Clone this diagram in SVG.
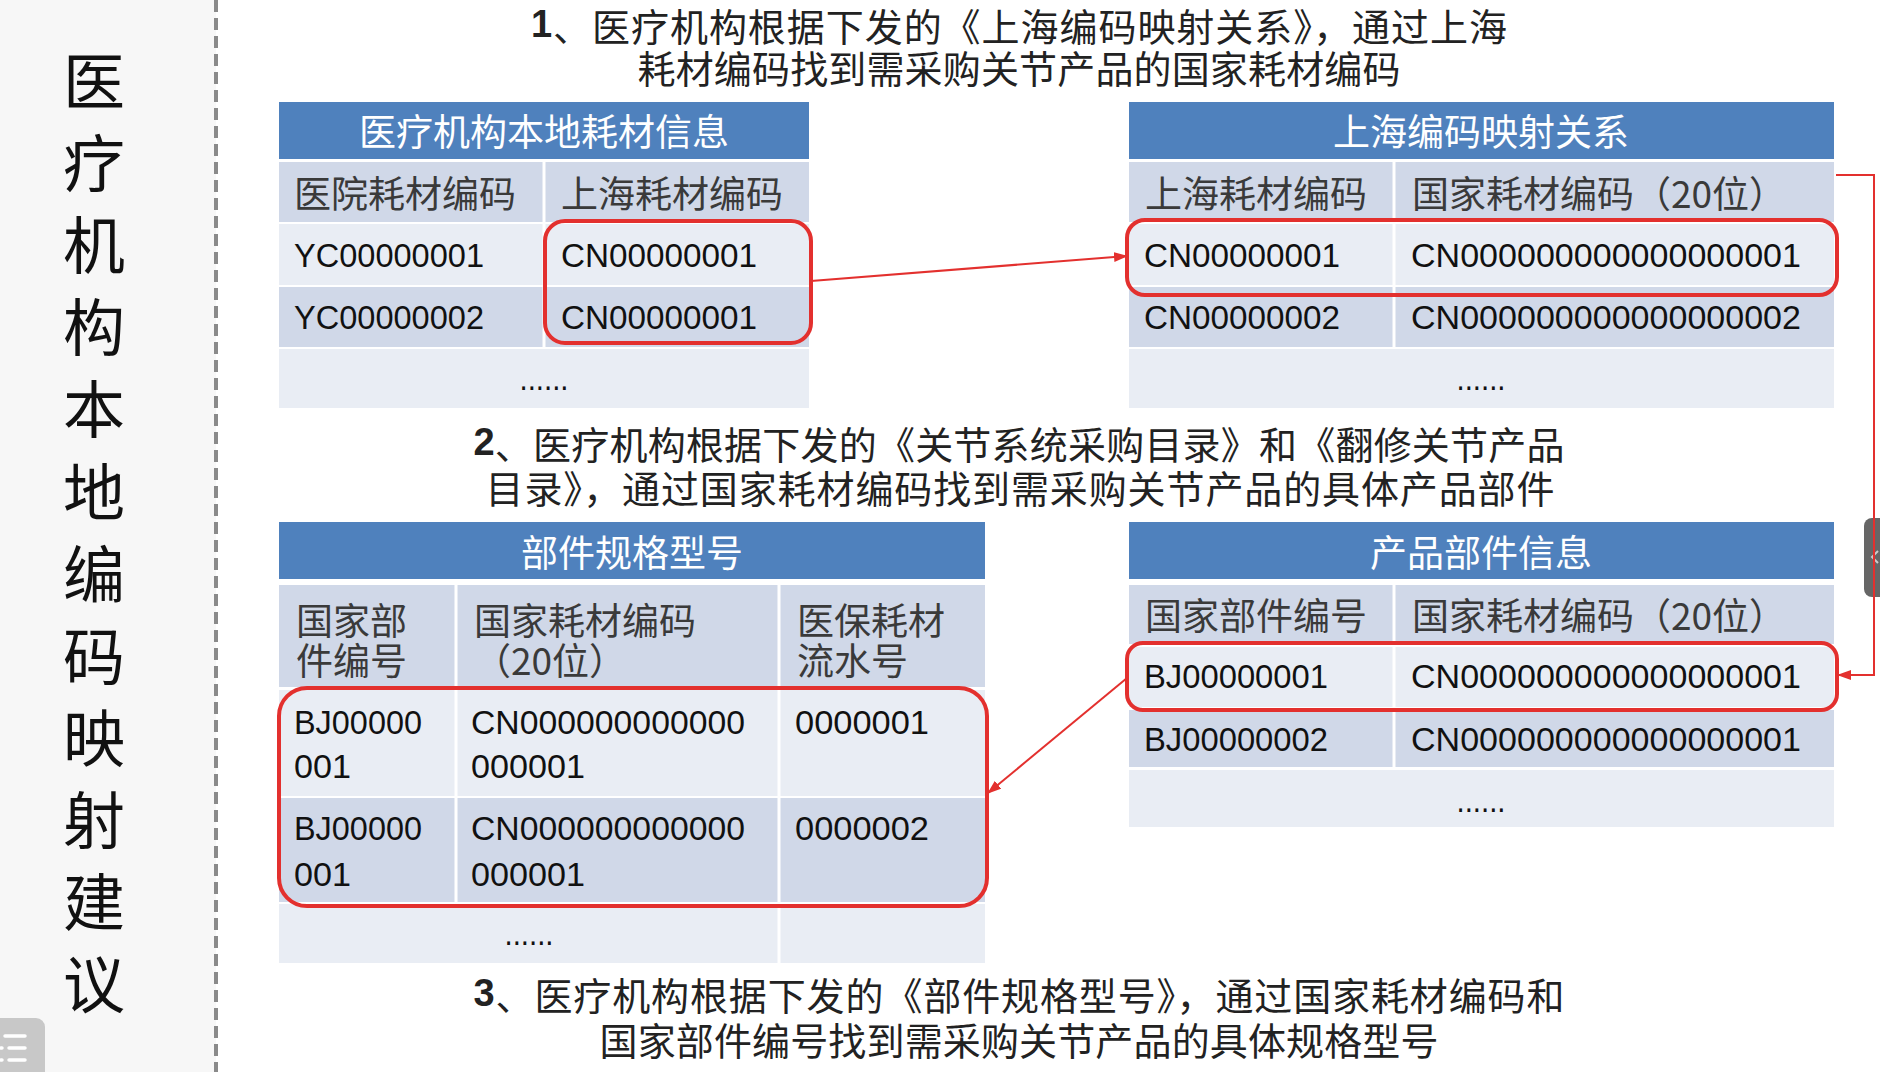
<svg xmlns="http://www.w3.org/2000/svg" width="1880" height="1072" viewBox="0 0 1880 1072">
<style>
.hdr{fill:#4f81bd}
.b1{fill:#d0d8e8}
.b2{fill:#e9edf4}
.dv{stroke:#fff;stroke-width:3}
.ht{font-family:"Noto Sans CJK SC",sans-serif;font-size:37px;fill:#fff;text-anchor:middle;dominant-baseline:central}
.ch{font-family:"Noto Sans CJK SC",sans-serif;font-size:37px;fill:#3a3a3a;dominant-baseline:central}
.dt{font-family:"Liberation Sans",Arial,sans-serif;font-size:34px;fill:#111;dominant-baseline:central}
.dots{font-family:"Liberation Sans",Arial,sans-serif;font-size:34px;fill:#111;text-anchor:middle}
.para{font-family:"Noto Sans CJK SC",sans-serif;font-size:38px;fill:#222;text-anchor:middle;dominant-baseline:central}
.num{font-family:"Liberation Sans",Arial,sans-serif;font-weight:bold}
.title{font-family:"Noto Sans CJK SC",sans-serif;font-size:62px;fill:#111;text-anchor:middle;dominant-baseline:central}
.sel{fill:none;stroke:#e3302e;stroke-width:4}
.conn{fill:none;stroke:#e3302e;stroke-width:2}
</style>
<defs>
<marker id="arr" markerUnits="userSpaceOnUse" markerWidth="14" markerHeight="10" refX="13" refY="5" orient="auto">
<path d="M0,0 L14,5 L0,10 z" fill="#e3302e"/>
</marker>
</defs>
<rect x="0" y="0" width="1880" height="1072" fill="#ffffff"/>
<rect x="0" y="0" width="216" height="1072" fill="#f7f7f7"/>
<line x1="216" y1="0" x2="216" y2="1072" stroke="#8a8a8a" stroke-width="4" stroke-dasharray="12,6"/>

<g id="title">
<text class="title" x="94" y="78">医</text>
<text class="title" x="94" y="160">疗</text>
<text class="title" x="94" y="242">机</text>
<text class="title" x="94" y="324">构</text>
<text class="title" x="94" y="406">本</text>
<text class="title" x="94" y="489">地</text>
<text class="title" x="94" y="571">编</text>
<text class="title" x="94" y="653">码</text>
<text class="title" x="94" y="735">映</text>
<text class="title" x="94" y="817">射</text>
<text class="title" x="94" y="899">建</text>
<text class="title" x="94" y="981">议</text>
</g>

<g id="step1">
<text class="para" x="1019" y="24" textLength="976"><tspan class="num">1</tspan>、医疗机构根据下发的《上海编码映射关系》，通过上海</text>
<text class="para" x="1019" y="66" textLength="763">耗材编码找到需采购关节产品的国家耗材编码</text>
</g>
<g id="step2">
<text class="para" x="1019" y="442" textLength="1091"><tspan class="num">2</tspan>、医疗机构根据下发的《关节系统采购目录》和《翻修关节产品</text>
<text class="para" x="1020" y="486" textLength="1069">目录》，通过国家耗材编码找到需采购关节产品的具体产品部件</text>
</g>
<g id="step3">
<text class="para" x="1019" y="993" textLength="1091"><tspan class="num">3</tspan>、医疗机构根据下发的《部件规格型号》，通过国家耗材编码和</text>
<text class="para" x="1019" y="1038" textLength="839">国家部件编号找到需采购关节产品的具体规格型号</text>
</g>

<g id="table-local">
<rect class="hdr" x="279" y="102" width="530" height="57"/>
<rect class="b1" x="279" y="162" width="530" height="60"/>
<rect class="b2" x="279" y="224" width="530" height="61"/>
<rect class="b1" x="279" y="287" width="530" height="60"/>
<rect class="b2" x="279" y="349" width="530" height="59"/>
<line class="dv" x1="544" y1="162" x2="544" y2="347"/>
<text class="ht" x="544" y="130">医疗机构本地耗材信息</text>
<text class="ch" x="294" y="192">医院耗材编码</text>
<text class="ch" x="561" y="192">上海耗材编码</text>
<text class="dt" x="294" y="255" textLength="190" lengthAdjust="spacingAndGlyphs">YC00000001</text>
<text class="dt" x="561" y="255" textLength="196" lengthAdjust="spacingAndGlyphs">CN00000001</text>
<text class="dt" x="294" y="317" textLength="190" lengthAdjust="spacingAndGlyphs">YC00000002</text>
<text class="dt" x="561" y="317" textLength="196" lengthAdjust="spacingAndGlyphs">CN00000001</text>
<text class="dots" x="544" y="390" textLength="49" lengthAdjust="spacingAndGlyphs">......</text>
<rect class="sel" x="545" y="221" width="266" height="122" rx="20"/>
</g>

<g id="table-shanghai">
<rect class="hdr" x="1129" y="102" width="705" height="57"/>
<rect class="b1" x="1129" y="162" width="705" height="60"/>
<rect class="b2" x="1129" y="224" width="705" height="61"/>
<rect class="b1" x="1129" y="287" width="705" height="60"/>
<rect class="b2" x="1129" y="349" width="705" height="59"/>
<line class="dv" x1="1394" y1="162" x2="1394" y2="347"/>
<text class="ht" x="1481" y="130">上海编码映射关系</text>
<text class="ch" x="1145" y="192">上海耗材编码</text>
<text class="ch" x="1412" y="192">国家耗材编码（20位）</text>
<text class="dt" x="1144" y="255" textLength="196" lengthAdjust="spacingAndGlyphs">CN00000001</text>
<text class="dt" x="1411" y="255" textLength="390" lengthAdjust="spacingAndGlyphs">CN000000000000000001</text>
<text class="dt" x="1144" y="317" textLength="196" lengthAdjust="spacingAndGlyphs">CN00000002</text>
<text class="dt" x="1411" y="317" textLength="390" lengthAdjust="spacingAndGlyphs">CN000000000000000002</text>
<text class="dots" x="1481" y="390" textLength="49" lengthAdjust="spacingAndGlyphs">......</text>
<rect class="sel" x="1127" y="220" width="710" height="75" rx="18"/>
</g>

<g id="table-parts">
<rect class="hdr" x="1129" y="522" width="705" height="57"/>
<rect class="b1" x="1129" y="585" width="705" height="59"/>
<rect class="b2" x="1129" y="647" width="705" height="60"/>
<rect class="b1" x="1129" y="710" width="705" height="57"/>
<rect class="b2" x="1129" y="770" width="705" height="57"/>
<line class="dv" x1="1394" y1="585" x2="1394" y2="767"/>
<text class="ht" x="1481" y="551">产品部件信息</text>
<text class="ch" x="1145" y="614">国家部件编号</text>
<text class="ch" x="1412" y="614">国家耗材编码（20位）</text>
<text class="dt" x="1144" y="676" textLength="184" lengthAdjust="spacingAndGlyphs">BJ00000001</text>
<text class="dt" x="1411" y="676" textLength="390" lengthAdjust="spacingAndGlyphs">CN000000000000000001</text>
<text class="dt" x="1144" y="739" textLength="184" lengthAdjust="spacingAndGlyphs">BJ00000002</text>
<text class="dt" x="1411" y="739" textLength="390" lengthAdjust="spacingAndGlyphs">CN000000000000000001</text>
<text class="dots" x="1481" y="812" textLength="49" lengthAdjust="spacingAndGlyphs">......</text>
<rect class="sel" x="1127" y="643" width="710" height="67" rx="16"/>
</g>

<g id="table-spec">
<rect class="hdr" x="279" y="522" width="706" height="57"/>
<rect class="b1" x="279" y="585" width="706" height="102"/>
<rect class="b2" x="279" y="690" width="706" height="106"/>
<rect class="b1" x="279" y="798" width="706" height="104"/>
<rect class="b2" x="279" y="904" width="706" height="59"/>
<line class="dv" x1="456" y1="585" x2="456" y2="902"/>
<line class="dv" x1="779" y1="585" x2="779" y2="963"/>
<text class="ht" x="632" y="551">部件规格型号</text>
<text class="ch"><tspan x="296" y="619">国家部</tspan><tspan x="296" y="659">件编号</tspan></text>
<text class="ch"><tspan x="474" y="619">国家耗材编码</tspan><tspan x="474" y="659">（20位）</tspan></text>
<text class="ch"><tspan x="797" y="619">医保耗材</tspan><tspan x="797" y="659">流水号</tspan></text>
<text class="dt"><tspan x="294" y="722" textLength="128" lengthAdjust="spacingAndGlyphs">BJ00000</tspan><tspan x="294" y="766" textLength="57" lengthAdjust="spacingAndGlyphs">001</tspan></text>
<text class="dt"><tspan x="471" y="722" textLength="274" lengthAdjust="spacingAndGlyphs">CN000000000000</tspan><tspan x="471" y="766" textLength="114" lengthAdjust="spacingAndGlyphs">000001</tspan></text>
<text class="dt" x="795" y="722" textLength="134" lengthAdjust="spacingAndGlyphs">0000001</text>
<text class="dt"><tspan x="294" y="828" textLength="128" lengthAdjust="spacingAndGlyphs">BJ00000</tspan><tspan x="294" y="874" textLength="57" lengthAdjust="spacingAndGlyphs">001</tspan></text>
<text class="dt"><tspan x="471" y="828" textLength="274" lengthAdjust="spacingAndGlyphs">CN000000000000</tspan><tspan x="471" y="874" textLength="114" lengthAdjust="spacingAndGlyphs">000001</tspan></text>
<text class="dt" x="795" y="828" textLength="134" lengthAdjust="spacingAndGlyphs">0000002</text>
<text class="dots" x="529" y="945" textLength="49" lengthAdjust="spacingAndGlyphs">......</text>
<rect class="sel" x="279" y="688" width="708" height="218" rx="28"/>
</g>

<g id="overlay">
<rect x="-10" y="1018" width="55" height="64" rx="9" fill="#c8c8c8"/>
<g stroke="#ffffff" stroke-width="3.5" stroke-linecap="round">
<line x1="5" y1="1036" x2="25" y2="1036"/>
<line x1="9" y1="1048" x2="25" y2="1048"/>
<line x1="9" y1="1060" x2="25" y2="1060"/>
<line x1="1" y1="1048" x2="2" y2="1048"/>
<line x1="1" y1="1060" x2="2" y2="1060"/>
</g>
<rect x="1864" y="518" width="30" height="79" rx="8" fill="#666666"/>
<path d="M1878,551 L1872,557 L1878,563" fill="none" stroke="#cccccc" stroke-width="2"/>
</g>

<g id="connectors">
<line class="conn" x1="811" y1="281" x2="1127" y2="256" marker-end="url(#arr)"/>
<polyline class="conn" points="1836,175 1874,175 1874,675 1838,675" marker-end="url(#arr)"/>
<line class="conn" x1="1127" y1="678" x2="988" y2="793" marker-end="url(#arr)"/>
</g>
</svg>
